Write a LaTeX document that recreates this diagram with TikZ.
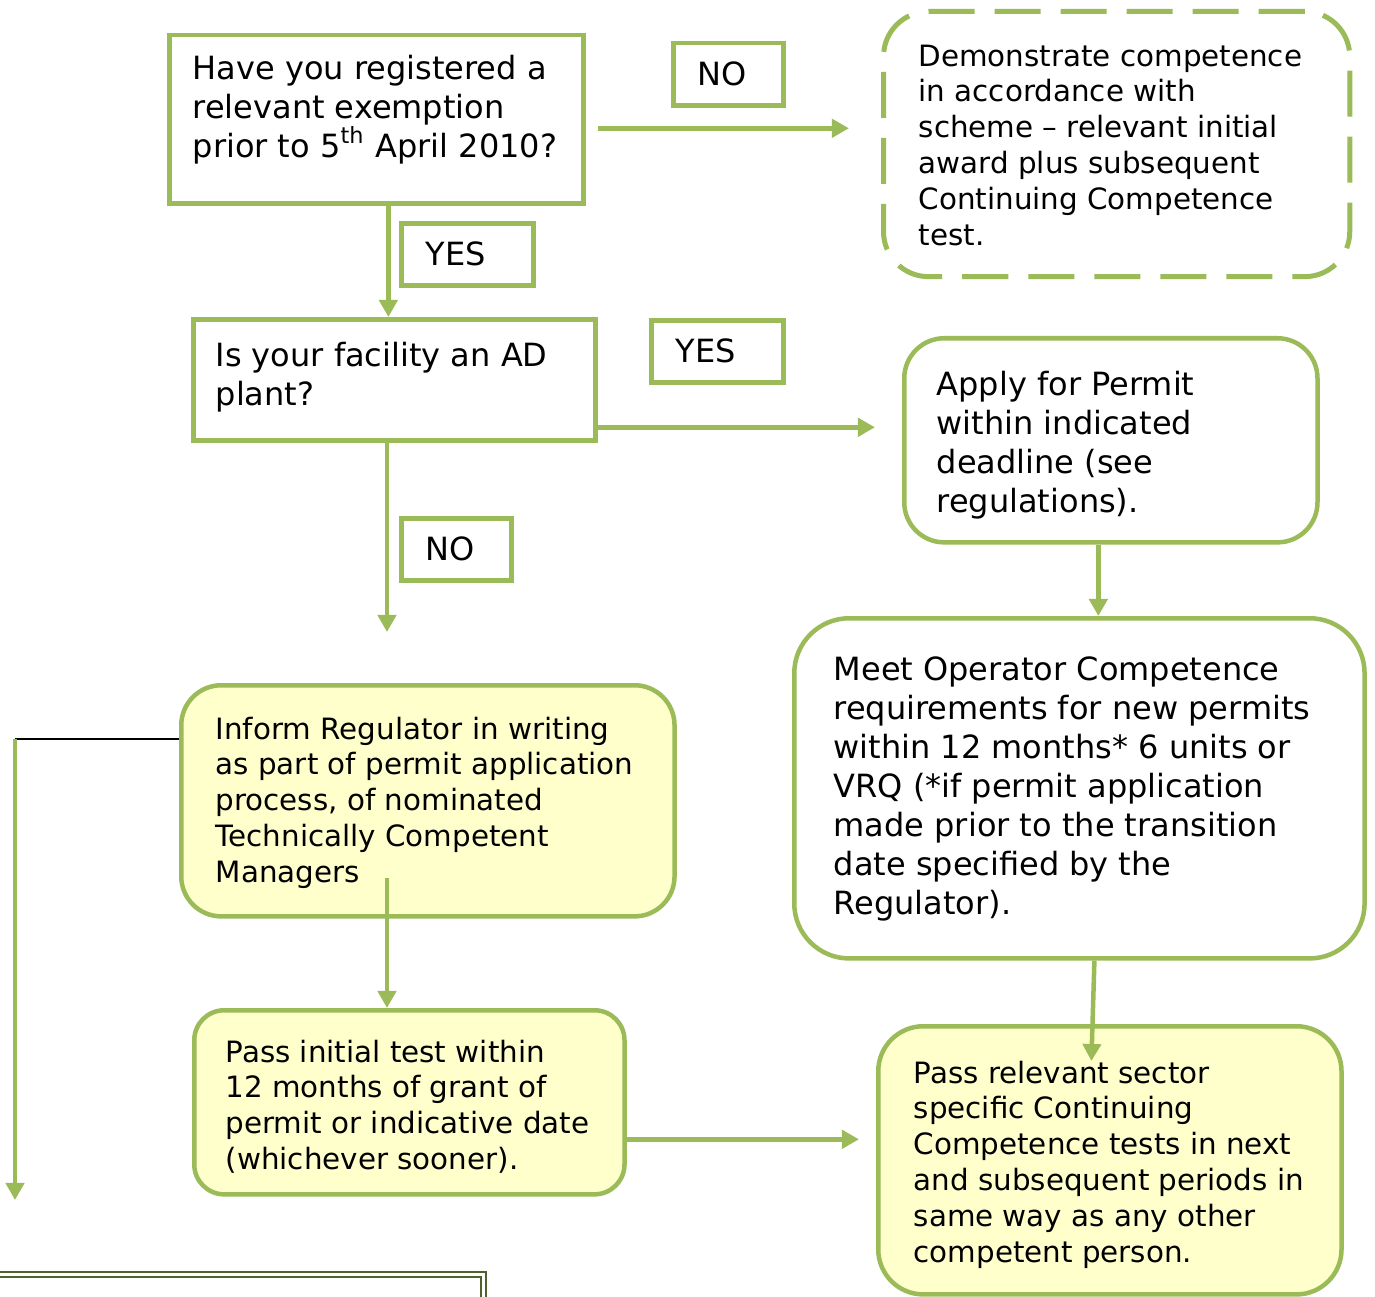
\documentclass[tikz,border=0pt]{standalone}
\usepackage{fontspec}
\setmainfont{DejaVu Sans}
\usetikzlibrary{arrows.meta,calc}
\definecolor{leaf}{HTML}{9BBB59}
\definecolor{pale}{HTML}{FFFFCC}
\definecolor{olive}{HTML}{4F6228}
\newcommand{\bigtxt}{\fontsize{9.1pt}{11.1pt}\selectfont}
\newcommand{\smalltxt}{\fontsize{8.35pt}{10.2pt}\selectfont}

\begin{document}
\begin{tikzpicture}[x=0.01cm,y=-0.01cm,
  box/.style={draw=leaf,line width=0.045cm,inner sep=0pt,anchor=north west},
  tag/.style={draw=leaf,line width=0.045cm,anchor=north west,minimum height=0.62cm,
    inner xsep=0.245cm,inner ysep=0pt,align=left,font=\bigtxt},
  txt/.style={anchor=north west,inner sep=0pt,align=left},
  link/.style={draw=leaf,line width=0.045cm,-{Triangle[width=0.18cm,length=0.17cm]}}]
\clip (0,0) rectangle (1375,1297);

\node[box,minimum width=4.14cm,minimum height=1.68cm] (exempt) at (167,33) {};
\node[txt,font=\bigtxt] (exempt-t) at (192,54) {Have you registered a\\relevant exemption\\prior to 5\textsuperscript{th} April 2010?};

\node[box,dash pattern=on 0.46cm off 0.2cm,line width=0.05cm,rounded corners=0.45cm,
  minimum width=4.66cm,minimum height=2.65cm] (scheme) at (881,9) {};
\node[txt,font=\smalltxt] (scheme-t) at (918,44) {Demonstrate competence\\in accordance with\\scheme – relevant initial\\award plus subsequent\\Continuing Competence\\test.};

\node[tag,text width=0.61cm] (no1) at (671,41) {NO};
\node[tag,text width=0.83cm] (yes1) at (399,221) {YES};

\node[box,minimum width=4.02cm,minimum height=1.21cm] (adplant) at (191,317) {};
\node[txt,font=\bigtxt] (adplant-t) at (215,341) {Is your facility an AD\\plant?};

\node[tag,text width=0.83cm] (yes2) at (649,318) {YES};
\node[tag,text width=0.61cm] (no2) at (399,516) {NO};

\node[box,rounded corners=0.4cm,minimum width=4.13cm,minimum height=2.04cm] (apply) at (902,336) {};
\node[txt,font=\bigtxt] (apply-t) at (936,370) {Apply for Permit\\within indicated\\deadline (see\\regulations).};

\node[box,rounded corners=0.55cm,minimum width=5.70cm,minimum height=3.40cm] (meet) at (792,616) {};
\node[txt,font=\bigtxt] (meet-t) at (833,656) {Meet Operator Competence\\requirements for new permits\\within 12 months* 6 units or\\VRQ (*if permit application\\made prior to the transition\\date specified by the\\Regulator).};

\node[box,fill=pale,rounded corners=0.4cm,minimum width=4.93cm,minimum height=2.31cm] (inform) at (179,683) {};
\node[txt,font=\smalltxt] (inform-t) at (215,716) {Inform Regulator in writing\\as part of permit application\\process, of nominated\\Technically Competent\\Managers};

\node[box,fill=pale,rounded corners=0.3cm,minimum width=4.30cm,minimum height=1.84cm] (initial) at (192,1008) {};
\node[txt,font=\smalltxt] (initial-t) at (225,1039) {Pass initial test within\\12 months of grant of\\permit or indicative date\\(whichever sooner).};

\node[box,fill=pale,rounded corners=0.45cm,minimum width=4.63cm,minimum height=2.68cm] (sector) at (876,1024) {};
\node[txt,font=\smalltxt] (sector-t) at (913,1060) {Pass relevant sector\\specific Continuing\\Competence tests in next\\and subsequent periods in\\same way as any other\\competent person.};

\coordinate (nogap) at (387,632);
\coordinate (leftrun) at (15,739);
\coordinate (leftend) at (15,1200);
\coordinate (inner) at (387,878);
\coordinate (exempt-r) at ($(exempt.east)+(0,9)$);
\coordinate (exempt-b) at ($(exempt.south)+(12,0)$);
\coordinate (adplant-r) at ($(adplant.east)+(0,47.5)$);
\coordinate (apply-b) at ($(apply.south)+(-12.5,0)$);
\coordinate (initial-r) at ($(initial.east)+(0,37)$);

\draw[link,shorten <=0.12cm,shorten >=0.32cm] (exempt-r) -- (exempt-r -| scheme.west);
\draw[link] (exempt-b) -- (exempt-b |- adplant.north);
\draw[link,shorten >=0.27cm] (adplant-r) -- (adplant-r -| apply.west);
\draw[link] (adplant.south -| nogap) -- (nogap);
\draw[link] (apply-b) -- (apply-b |- meet.north);
\draw[black,line width=0.015cm] (inform.west |- leftrun) -- (leftrun);
\draw[link] (leftrun) -- (leftend);
\draw[link] (inner) -- (inner |- initial.north);
\draw[link,shorten >=0.17cm] (initial-r) -- (initial-r -| sector.west);
\draw[link] ($(meet.south)+(15,0)$) -- ($(sector.north)+(-18.5,37)$);

\draw[olive,line width=0.025cm] (-10,1272) -- (486,1272) -- (486,1320);
\draw[olive,line width=0.025cm] (-10,1277) -- (481,1277) -- (481,1320);
\end{tikzpicture}
\end{document}
